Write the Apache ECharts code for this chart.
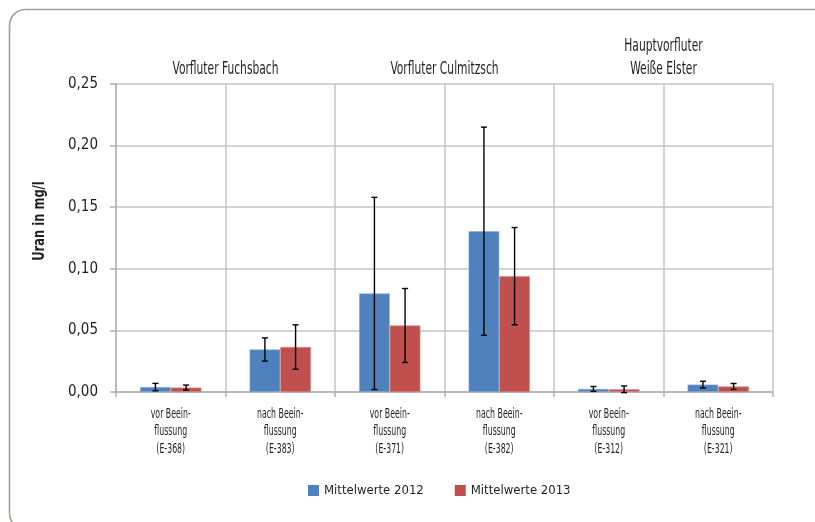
<!DOCTYPE html>
<html>
<head>
<meta charset="utf-8">
<script src="https://cdn.jsdelivr.net/npm/echarts@6/dist/echarts.min.js"></script>
<style>
  html, body { margin: 0; padding: 0; background: #fff; overflow: hidden; }
  #chart { width: 815px; height: 522px; }
</style>
</head>
<body>
<div id="chart"></div>
<script>
// Messstellen (x-Achse)
const categories = [
  'vor Beein-\nflussung\n(E-368)',
  'nach Beein-\nflussung\n(E-383)',
  'vor Beein-\nflussung\n(E-371)',
  'nach Beein-\nflussung\n(E-382)',
  'vor Beein-\nflussung\n(E-312)',
  'nach Beein-\nflussung\n(E-321)'
];

// Mittelwerte Uran in mg/l
const mean2012 = [0.0040, 0.0345, 0.0800, 0.1305, 0.0025, 0.0060];
const mean2013 = [0.0036, 0.0365, 0.0540, 0.0940, 0.0022, 0.0045];

// Standardabweichungen (Fehlerbalken, +/-)
const err2012 = [0.0030, 0.0094, 0.0780, 0.0845, 0.0020, 0.0027];
const err2013 = [0.0020, 0.0180, 0.0300, 0.0395, 0.0027, 0.0024];

const seriesNames = ['Mittelwerte 2012', 'Mittelwerte 2013'];
const yTicks = { min: 0, max: 0.25, step: 0.05 };

// Gewässergruppen über den Messstellen (Index-Bereiche)
const groups = [
  { label: 'Vorfluter Fuchsbach', from: 0, to: 1 },
  { label: 'Vorfluter Culmitzsch', from: 2, to: 3 },
  { label: 'Hauptvorfluter\nWeiße Elster', from: 4, to: 5 }
];

const FONT = '"DejaVu Sans Condensed", "Liberation Sans Narrow", sans-serif';
const TXT = '#1f1f1f';
const GRID = '#c4c4c4';
const FRAME = '#a59d96';
const BAR_W = 0.28;   // Anteil an der Kategorienbreite je Balken

const chart = echarts.init(document.getElementById('chart'), null, { renderer: 'canvas' });

function errorSeries(means, errs, side) {
  return {
    type: 'custom',
    z: 5,
    silent: true,
    data: means.map((m, i) => [i, m - errs[i], m + errs[i]]),
    renderItem: function (params, api) {
      const band = api.size([1, 0])[0];
      const dx = side * band * BAR_W / 2;
      const lo = api.coord([api.value(0), api.value(1)]);
      const hi = api.coord([api.value(0), api.value(2)]);
      const x = lo[0] + dx;
      const cap = 3;
      const st = { stroke: '#000', lineWidth: 1.4 };
      return {
        type: 'group',
        children: [
          { type: 'line', shape: { x1: x, y1: lo[1], x2: x, y2: hi[1] }, style: st },
          { type: 'line', shape: { x1: x - cap, y1: lo[1], x2: x + cap, y2: lo[1] }, style: st },
          { type: 'line', shape: { x1: x - cap, y1: hi[1], x2: x + cap, y2: hi[1] }, style: st }
        ]
      };
    }
  };
}

const option = {
  animation: false,
  backgroundColor: '#fff',
  grid: { left: 116, right: 42, top: 84, bottom: 130, containLabel: false },
  legend: {
    data: seriesNames,
    left: 308,
    top: 484,
    padding: 0,
    itemWidth: 11,
    itemHeight: 11,
    itemGap: 31,
    icon: 'rect',
    itemStyle: { borderWidth: 0 },
    textStyle: { fontFamily: FONT, fontSize: 13, color: TXT }
  },
  xAxis: {
    type: 'category',
    data: categories,
    boundaryGap: true,
    axisLine: { show: true, lineStyle: { color: '#b0b0b0', width: 1.5 } },
    axisTick: { show: true, length: 5, interval: 0, lineStyle: { color: '#b0b0b0', width: 1.5 } },
    splitLine: { show: true, interval: 0, lineStyle: { color: GRID, width: 1.5 } },
    axisLabel: { show: false }
  },
  yAxis: {
    type: 'value',
    min: yTicks.min,
    max: yTicks.max,
    interval: yTicks.step,
    axisLine: { show: true, lineStyle: { color: '#b0b0b0', width: 1.5 } },
    axisTick: { show: true, length: 6, lineStyle: { color: '#b0b0b0', width: 1.5 } },
    splitLine: { show: true, lineStyle: { color: GRID, width: 1.5 } },
    axisLabel: {
      margin: 18,
      fontFamily: FONT,
      fontSize: 15,
      color: TXT,
      formatter: v => v.toFixed(2).replace('.', ',')
    }
  },
  series: [
    {
      name: seriesNames[0],
      type: 'bar',
      data: mean2012,
      barWidth: (BAR_W * 100) + '%',
      barGap: '0%',
      itemStyle: { color: '#4F81BD', borderColor: '#8FAEDA', borderWidth: 0.6 }
    },
    {
      name: seriesNames[1],
      type: 'bar',
      data: mean2013,
      barWidth: (BAR_W * 100) + '%',
      barGap: '0%',
      itemStyle: { color: '#C0504D', borderColor: '#DA8E8C', borderWidth: 0.6 }
    },
    errorSeries(mean2012, err2012, -1),
    errorSeries(mean2013, err2013, 1)
  ]
};

chart.setOption(option);

// Rahmen, Achsentitel, Kategorienbeschriftung und Gruppenüberschriften
// (schmal gesetzte Schrift über scaleX)
const gridTop = chart.convertToPixel({ yAxisIndex: 0 }, yTicks.max);
const gridBottom = chart.convertToPixel({ yAxisIndex: 0 }, yTicks.min);

const groupTexts = groups.map(g => {
  const a = chart.convertToPixel({ xAxisIndex: 0 }, g.from);
  const b = chart.convertToPixel({ xAxisIndex: 0 }, g.to);
  return {
    type: 'text',
    x: (a + b) / 2,
    y: gridTop - 2.5,
    scaleX: 0.7,
    silent: true,
    style: {
      text: g.label,
      fill: TXT,
      font: '17px ' + FONT,
      lineHeight: 23,
      align: 'center',
      verticalAlign: 'bottom'
    }
  };
});

const categoryTexts = categories.map((c, i) => ({
  type: 'text',
  x: chart.convertToPixel({ xAxisIndex: 0 }, i),
  y: gridBottom + 13,
  scaleX: 0.6,
  silent: true,
  style: {
    text: c,
    fill: TXT,
    font: '14.5px ' + FONT,
    lineHeight: 17.5,
    align: 'center',
    verticalAlign: 'top'
  }
}));

// Rahmenlinie links und oben mit abgerundeten Ecken
const frameStyle = { fill: 'none', stroke: FRAME, lineWidth: 1.6 };
const frame = [
  { type: 'line', shape: { x1: 9.5, y1: 25.5, x2: 9.5, y2: 513.5 }, style: frameStyle, silent: true },
  { type: 'line', shape: { x1: 25.5, y1: 9.5, x2: 1000, y2: 9.5 }, style: frameStyle, silent: true },
  { type: 'arc', shape: { cx: 25.5, cy: 25.5, r: 16, startAngle: Math.PI, endAngle: Math.PI * 1.5, clockwise: true }, style: frameStyle, silent: true },
  { type: 'arc', shape: { cx: 25.5, cy: 513.5, r: 16, startAngle: Math.PI / 2, endAngle: Math.PI, clockwise: true }, style: frameStyle, silent: true }
];

chart.setOption({
  graphic: frame.concat([
    {
      type: 'text',
      x: 40,
      y: (gridTop + gridBottom) / 2 - 17,
      rotation: Math.PI / 2,
      scaleX: 0.8,
      silent: true,
      style: {
        text: 'Uran in mg/l',
        fill: TXT,
        font: 'bold 16px ' + FONT,
        align: 'center',
        verticalAlign: 'middle'
      }
    }
  ], groupTexts, categoryTexts)
});
</script>
</body>
</html>
